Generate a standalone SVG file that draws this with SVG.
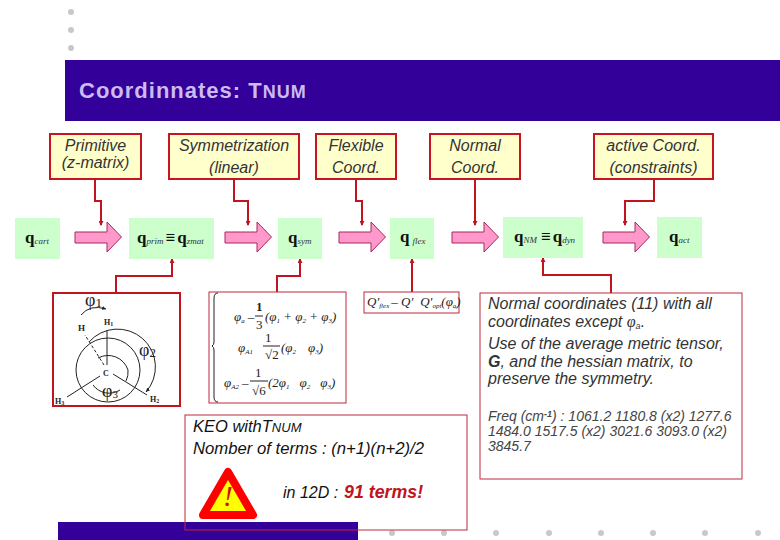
<svg xmlns="http://www.w3.org/2000/svg" width="780" height="540" viewBox="0 0 780 540">
<style>
text{font-family:"Liberation Sans",Arial,sans-serif;fill:#111}
.lab{fill:#ffffcc;stroke:#c8141e;stroke-width:2}
.lt{font-size:16px;font-style:italic;text-anchor:middle;fill:#333}
.g{fill:#ccffcc}
.q{font-family:"Liberation Serif",serif;font-weight:bold;font-size:17px;fill:#111}
.s{font-family:"Liberation Serif",serif;font-style:italic;font-weight:normal;font-size:9px;fill:#333}
.ar{fill:#ff99cc;stroke:#a8285a;stroke-width:1}
.c{fill:none;stroke:#c0141e;stroke-width:2}
.thin{fill:#fff;stroke:#c0283a;stroke-width:1}
.m{font-family:"Liberation Serif",serif;font-style:italic;font-size:13px;fill:#222}
.n{font-family:"Liberation Serif",serif;font-size:13px;fill:#222}
.b{font-size:16px;font-style:italic;fill:#333}
.f{font-size:14px;font-style:italic;fill:#444}
.d{fill:#c8c8c8}
.mol{fill:none;stroke:#222;stroke-width:1}
.ml{font-family:"Liberation Serif",serif;font-size:8px;font-weight:bold;fill:#222}
.mp{font-family:"Liberation Serif",serif;font-size:18px;fill:#222}
</style>
<defs>
<marker id="h" markerWidth="5" markerHeight="5" refX="4" refY="2.500" orient="auto" markerUnits="userSpaceOnUse"><path d="M0 0L5 2.500L0 5z" fill="#c0141e"/></marker>
<marker id="k" markerWidth="5" markerHeight="4" refX="4" refY="2" orient="auto" markerUnits="userSpaceOnUse"><path d="M0 0L4 2L0 4z" fill="#222"/></marker>
<path id="pa" d="M0 10H32V0L46.500 15L32 30V21H0z"/>
</defs>
<rect width="780" height="540" fill="#fff"/>
<g id="decor">
<circle class="d" cx="71" cy="12" r="3"/><circle class="d" cx="71" cy="30" r="3"/><circle class="d" cx="71" cy="48" r="3"/>
<rect x="58" y="522" width="300" height="18" fill="#330099"/>
<circle class="d" cx="392" cy="533" r="3"/><circle class="d" cx="444" cy="533" r="3"/><circle class="d" cx="496" cy="533" r="3"/><circle class="d" cx="549" cy="533" r="3"/><circle class="d" cx="601" cy="533" r="3"/><circle class="d" cx="653" cy="533" r="3"/><circle class="d" cx="705" cy="533" r="3"/><circle class="d" cx="758" cy="533" r="3"/>
</g>
<g id="title">
<rect x="65" y="60" width="715" height="61" fill="#330099"/>
<text x="79" y="98" font-size="22" font-weight="bold" style="fill:#ccbbee;letter-spacing:1px">Coordinnates: T<tspan font-size="18">NUM</tspan></text>
</g>
<g id="connectors">
<path class="c" marker-end="url(#h)" d="M95 179V201H101V225"/>
<path class="c" marker-end="url(#h)" d="M234 179V201H248V225"/>
<path class="c" marker-end="url(#h)" d="M356 179V201H362V225"/>
<path class="c" marker-end="url(#h)" d="M475 179V225"/>
<path class="c" marker-end="url(#h)" d="M654 179V201H625V225"/>
<path class="c" marker-end="url(#h)" d="M116 293V276H172V259"/>
<path class="c" marker-end="url(#h)" d="M277 292V276H300V259"/>
<path class="c" marker-end="url(#h)" d="M412 292V259"/>
<path class="c" marker-end="url(#h)" d="M611 293V275H543V258"/>
</g>
<g id="n-primitive"><rect class="lab" x="50" y="134" width="91" height="45"/><text class="lt" x="95.500" y="151">Primitive</text><text class="lt" x="95.500" y="168">(z-matrix)</text></g>
<g id="n-symmetrization"><rect class="lab" x="169" y="134" width="130" height="45"/><text class="lt" x="234" y="151">Symmetrization</text><text class="lt" x="234" y="173">(linear)</text></g>
<g id="n-flexible"><rect class="lab" x="316" y="134" width="80" height="45"/><text class="lt" x="356" y="151">Flexible</text><text class="lt" x="356" y="173">Coord.</text></g>
<g id="n-normal"><rect class="lab" x="430" y="134" width="90" height="45"/><text class="lt" x="475" y="151">Normal</text><text class="lt" x="475" y="173">Coord.</text></g>
<g id="n-active"><rect class="lab" x="594" y="134" width="119" height="45"/><text class="lt" x="653.500" y="151">active Coord.</text><text class="lt" x="653.500" y="173">(constraints)</text></g>
<g id="n-qcart"><rect class="g" x="15" y="218" width="45" height="41"/><text class="q" x="25" y="243">q<tspan class="s" dy="1">cart</tspan></text></g>
<g id="n-qprim"><rect class="g" x="129" y="218" width="85" height="41"/><text class="q" x="137" y="243">q<tspan class="s" dy="1">prim</tspan><tspan dy="-1" dx="2">≡</tspan><tspan dx="2">q</tspan><tspan class="s" dy="1">zmat</tspan></text></g>
<g id="n-qsym"><rect class="g" x="278" y="218" width="44" height="41"/><text class="q" x="288" y="243">q<tspan class="s" dy="1">sym</tspan></text></g>
<g id="n-qflex"><rect class="g" x="390" y="218" width="44" height="41"/><text class="q" x="400" y="242">q<tspan class="s" dy="2" dx="3">flex</tspan></text></g>
<g id="n-qnm"><rect class="g" x="503" y="217" width="80" height="41"/><text class="q" x="514" y="242">q<tspan class="s" dy="1">NM</tspan><tspan dy="-1" dx="4">≡</tspan><tspan dx="2">q</tspan><tspan class="s" dy="1">dyn</tspan></text></g>
<g id="n-qact"><rect class="g" x="657" y="217" width="45" height="41"/><text class="q" x="669" y="242">q<tspan class="s" dy="1">act</tspan></text></g>
<g id="arrows">
<use href="#pa" class="ar" x="75" y="222"/><use href="#pa" class="ar" x="225" y="222"/><use href="#pa" class="ar" x="339" y="222"/><use href="#pa" class="ar" x="452" y="222"/><use href="#pa" class="ar" x="603" y="222"/>
</g>
<g id="n-molecule">
<rect x="53" y="293" width="127" height="113" fill="#fff" stroke="#c0141e" stroke-width="2"/>
<circle class="mol" cx="108" cy="370" r="32"/>
<path class="mol" d="M107 365V330"/><path class="mol" d="M113 374L147 395"/><path class="mol" d="M100 376L67 397"/>
<path class="mol" stroke-dasharray="3 2" d="M104 365L85 335"/>
<path class="mol" marker-end="url(#k)" d="M89 342A36 36 0 0 1 146 392"/>
<path class="mol" d="M98 358A21 21 0 0 1 128 370A20 20 0 0 1 126 381"/>
<path class="mol" d="M93 385A20 20 0 0 0 120 390"/>
<path class="mol" marker-end="url(#k)" d="M81 315Q90 304 106 309"/>
<text class="mp" x="85" y="306">φ<tspan font-size="13" dy="1">1</tspan></text>
<text class="mp" x="139" y="356">φ<tspan font-size="13" dy="1">2</tspan></text>
<text class="mp" x="102" y="397">φ<tspan font-size="11" dy="1">3</tspan></text>
<text class="ml" x="78" y="331" style="font-size:9px">H</text>
<text class="ml" x="104" y="325">H<tspan font-size="6" dy="1">1</tspan></text>
<text class="ml" x="150" y="402">H<tspan font-size="6" dy="1">2</tspan></text>
<text class="ml" x="55" y="404">H<tspan font-size="6" dy="1">3</tspan></text>
<text class="ml" x="103" y="376">C</text>
</g>
<g id="n-formulas">
<rect class="thin" x="209" y="292" width="137" height="111"/>
<path class="mol" d="M218 293Q214 293 214 298V342Q214 345 212 346Q214 347 214 350V397Q214 402 218 402"/>
<text class="m" x="234" y="321">φ<tspan font-size="7" dy="2">a</tspan><tspan dy="-2" dx="3">–</tspan></text>
<text class="n" x="256" y="311" font-weight="bold">1</text><path class="mol" d="M255 316H263"/><text class="n" x="256" y="329">3</text>
<text class="m" x="265" y="321">(φ<tspan font-size="7" dy="2">1</tspan><tspan dy="-2"> + φ</tspan><tspan font-size="7" dy="2">2</tspan><tspan dy="-2"> + φ</tspan><tspan font-size="7" dy="2">3</tspan><tspan dy="-2">)</tspan></text>
<text class="m" x="238" y="352">φ<tspan font-size="7" dy="2">A1</tspan></text>
<text class="n" x="265" y="342">1</text><path class="mol" d="M263 346H280"/><text class="n" x="265" y="359">√2</text>
<text class="m" x="281" y="352">(φ<tspan font-size="7" dy="2">2</tspan><tspan dy="-2" dx="12">φ</tspan><tspan font-size="7" dy="2">3</tspan><tspan dy="-2">)</tspan></text>
<text class="m" x="224" y="387">φ<tspan font-size="7" dy="2">A2</tspan><tspan dy="-2" dx="3">–</tspan></text>
<text class="n" x="255" y="377">1</text><path class="mol" d="M250 381H268"/><text class="n" x="252" y="395">√6</text>
<text class="m" x="268" y="387">(2φ<tspan font-size="7" dy="2">1</tspan><tspan dy="-2" dx="10">φ</tspan><tspan font-size="7" dy="2">2</tspan><tspan dy="-2" dx="10">φ</tspan><tspan font-size="7" dy="2">3</tspan><tspan dy="-2">)</tspan></text>
</g>
<g id="n-flexformula">
<rect class="thin" x="364" y="292" width="95" height="21"/>
<text class="m" x="367" y="306">Q'<tspan font-size="7" dy="2">flex</tspan><tspan dy="-2" dx="2">– Q'</tspan><tspan dx="7">Q'</tspan><tspan font-size="7" dy="2">opt</tspan><tspan dy="-2">(φ</tspan><tspan font-size="7" dy="2">a</tspan><tspan dy="-2">)</tspan></text>
</g>
<g id="n-normaltext">
<rect class="thin" x="480" y="293" width="262" height="186"/>
<text class="b" x="488" y="309">Normal coordinates (11) with all</text>
<text class="b" x="488" y="327">coordinates except <tspan style="font-family:'Liberation Serif',serif">φ</tspan><tspan font-size="9" dy="2">a</tspan><tspan dy="-2">.</tspan></text>
<text class="b" x="488" y="349">Use of the average metric tensor,</text>
<text class="b" x="488" y="367"><tspan font-weight="bold">G</tspan>, and the hessian matrix, to</text>
<text class="b" x="488" y="384">preserve the symmetry.</text>
<text class="f" x="488" y="421">Freq (cm<tspan font-size="9" dy="-4" font-weight="bold">-1</tspan><tspan dy="4">) : 1061.2 1180.8 (x2) 1277.6</tspan></text>
<text class="f" x="488" y="436">1484.0 1517.5 (x2) 3021.6 3093.0 (x2)</text>
<text class="f" x="488" y="451">3845.7</text>
</g>
<g id="n-keo">
<rect x="185" y="415" width="282" height="115" fill="none" stroke="#c0283a" stroke-width="1"/>
<text x="193" y="432" font-size="16.500" font-style="italic">KEO withT<tspan font-size="13">NUM</tspan></text>
<text x="193" y="454" font-size="16.700" font-style="italic">Nomber of terms : (n+1)(n+2)/2</text>
<path d="M228 472L253 515H203z" fill="#ffff00" stroke="#ff0000" stroke-width="8" stroke-linejoin="round"/>
<text x="223" y="506" font-size="30" font-style="italic" style="fill:#cc1111;font-family:'Liberation Serif',serif">!</text>
<text x="283" y="498" font-size="16" font-style="italic">in 12D : </text>
<text x="344" y="498" font-size="17.800" font-style="italic" font-weight="bold" style="fill:#c0141e">91 terms!</text>
</g>
</svg>
